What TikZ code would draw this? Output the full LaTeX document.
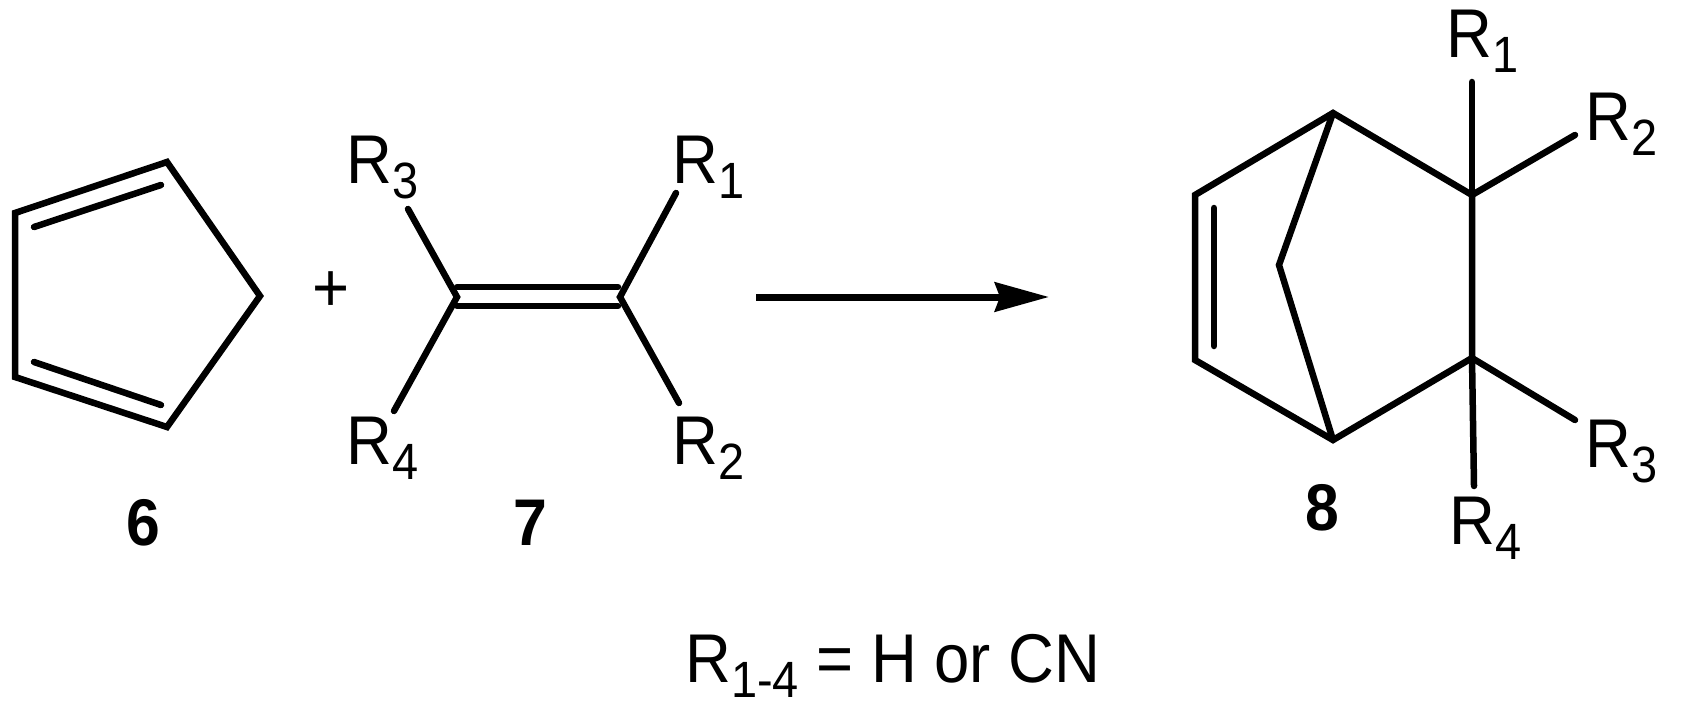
\documentclass[tikz,border=0pt]{standalone}
\usepackage{fontspec}
\setmainfont[FakeStretch=0.92]{Liberation Sans}
\usetikzlibrary{arrows.meta}
\newcommand{\rsub}[1]{R\raisebox{-15pt}{\fontsize{51}{51}\selectfont #1}}
\begin{document}
\begin{tikzpicture}[x=1pt,y=-1pt,>={Stealth[length=54pt,width=29pt,inset=5pt]},
      bond/.style={line width=6.5pt,line join=miter,line cap=round},
      group node/.style={font=\fontsize{69}{69}\selectfont,inner sep=0pt,anchor=base west},
      main node/.style={font=\fontsize{66}{66}\selectfont\bfseries,inner sep=0pt,anchor=base}]
    \useasboundingbox (0,0) rectangle (1684,709);
    % compound 6
    \coordinate (A1) at (15,213);
    \coordinate (A2) at (167,162);
    \coordinate (A3) at (260,296);
    \coordinate (A4) at (167,427);
    \coordinate (A5) at (15,377);
    \coordinate (A6) at (34,227);
    \coordinate (A7) at (161,185);
    \coordinate (A8) at (34,362);
    \coordinate (A9) at (161,405);
    \draw[bond] (A1) -- (A2) -- (A3) -- (A4) -- (A5) -- cycle;
    \draw[bond] (A6) -- (A7);
    \draw[bond] (A8) -- (A9);
    \node[main node] (N6) at (143,545) {6};
    \node[group node,anchor=base] (plus) at (331,311) {+};
    % compound 7
    \coordinate (B1) at (457,287);
    \coordinate (B2) at (618,287);
    \coordinate (B3) at (457,306);
    \coordinate (B4) at (618,306);
    \coordinate (BL) at (457,297);
    \coordinate (BR) at (620,297);
    \coordinate (B5) at (408,209);
    \coordinate (B6) at (676,193);
    \coordinate (B7) at (394,411);
    \coordinate (B8) at (679,403);
    \node[group node] (R3a) at (346,183) {\rsub{3}};
    \node[group node] (R1a) at (672,183) {\rsub{1}};
    \node[group node] (R4a) at (346,464) {\rsub{4}};
    \node[group node] (R2a) at (672,464) {\rsub{2}};
    \draw[bond] (B1) -- (B2);
    \draw[bond] (B3) -- (B4);
    \draw[bond] (B5) -- (BL) -- (B7);
    \draw[bond] (B6) -- (BR) -- (B8);
    \node[main node] (N7) at (530,545) {7};
    % arrow
    \coordinate (S) at (756,297);
    \coordinate (E) at (1049,297);
    \draw[bond,line width=7pt,line cap=butt,->] (S) -- (E);
    % compound 8
    \coordinate (C1) at (1333,113);
    \coordinate (C2) at (1195,195);
    \coordinate (C3) at (1195,360);
    \coordinate (C4) at (1333,440);
    \coordinate (C5) at (1472,358);
    \coordinate (C6) at (1472,195);
    \coordinate (C7) at (1279,265);
    \coordinate (C8) at (1214,208);
    \coordinate (C9) at (1214,346);
    \coordinate (D1) at (1472,82);
    \coordinate (D2) at (1575,135);
    \coordinate (D3) at (1575,420);
    \coordinate (D4) at (1474,486);
    \draw[bond] (C1) -- (C2) -- (C3) -- (C4) -- (C5) -- (C6) -- cycle;
    \draw[bond] (C1) -- (C7) -- (C4);
    \draw[bond] (C8) -- (C9);
    \draw[bond] (C6) -- (D1);
    \draw[bond] (C6) -- (D2);
    \draw[bond] (C5) -- (D3);
    \draw[bond] (C5) -- (D4);
    \node[group node] (R1b) at (1446,58) {\rsub{1}};
    \node[group node] (R2b) at (1585,140) {\rsub{2}};
    \node[group node] (R3b) at (1585,467) {\rsub{3}};
    \node[group node] (R4b) at (1449,544) {\rsub{4}};
    \node[main node] (N8) at (1322,530) {8};
    \node[group node] (cap) at (685,682) {\rsub{1-4} = H or CN};
\end{tikzpicture}
\end{document}
